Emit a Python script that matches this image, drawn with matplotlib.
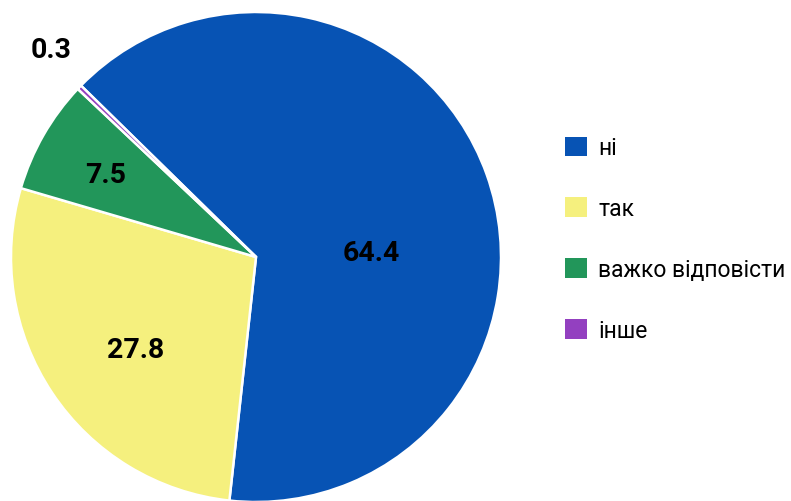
import matplotlib
matplotlib.use("Agg")
import matplotlib.pyplot as plt
from matplotlib.patches import Patch
import numpy as np

categories = ["ні", "так", "важко відповісти", "інше"]
values = [64.4, 27.8, 7.5, 0.3]
labels = ["64.4", "27.8", "7.5", "0.3"]
colors = ["#0753B4", "#F5F07E", "#22965A", "#9340C0"]

plt.rcParams['font.family'] = ['Roboto', 'DejaVu Sans']

fig = plt.figure(figsize=(7.91, 5.02), dpi=100)
ax = fig.add_axes([11/791, -1/502, 490/791, 490/502])
wedges, _ = ax.pie(values, colors=colors, startangle=135.6, counterclock=False,
                   radius=1, wedgeprops=dict(edgecolor="white", linewidth=1.8))
ax.set_xlim(-1, 1)
ax.set_ylim(-1, 1)
ax.set_aspect("equal")
ax.axis("off")

# label placement: (radius, angle offset in degrees)
placement = [(0.47, -17.5), (0.62, 4), (0.70, 1.0), (1.19, -1.5)]
for w, lab, (r, off) in zip(wedges, labels, placement):
    ang = np.deg2rad((w.theta1 + w.theta2) / 2 + off)
    ax.text(r * np.cos(ang), r * np.sin(ang), lab, ha="center", va="center",
            fontsize=20.5, fontweight="bold", color="black")

handles = [Patch(facecolor=c, edgecolor="none") for c in colors]
fig.legend(handles, categories, loc="center left", bbox_to_anchor=(565/791, 1 - 240/502),
           frameon=False, fontsize=16.5, handlelength=0.95, handleheight=0.95,
           labelspacing=1.65, handletextpad=0.5, borderaxespad=0, borderpad=0)

fig.savefig("out.png", dpi=100)
